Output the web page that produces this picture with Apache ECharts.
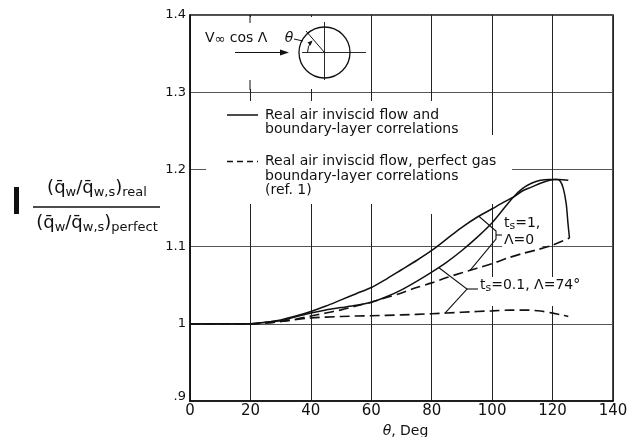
<!DOCTYPE html>
<html><head><meta charset="utf-8">
<script src="https://cdn.jsdelivr.net/npm/echarts@6/dist/echarts.min.js"></script>
<style>html,body{margin:0;padding:0;background:#fff}#c{width:634px;height:437px}</style>
</head><body><div id="c"></div>
<script>
const xTickLabels = ['0','20','40','60','80','100','120','140'];
const yTickLabels = ['.9','1','1.1','1.2','1.3','1.4'];

// t_s = 1, Λ = 0 : real air inviscid flow and boundary-layer correlations (solid)
const thetaRealTs1 = [0,20,25,30,35,40,45,50,55,60,65,70,75,80,85,90,95,100,104,107,110,113,116,119,120.5,121.5,122.5,123.5,124.5,125.1,125.6];
const valRealTs1   = [1.0,1.0,1.002,1.005,1.010,1.016,1.023,1.031,1.039,1.047,1.058,1.070,1.082,1.095,1.110,1.125,1.138,1.149,1.158,1.164,1.172,1.177,1.182,1.186,1.187,1.187,1.185,1.176,1.156,1.130,1.111];
// t_s = 0.1, Λ = 74° : real air (solid)
const thetaRealTs01 = [0,20,25,30,35,40,45,50,55,60,65,70,75,80,85,90,95,100,104,107,110,113,116,119,122,125.2];
const valRealTs01   = [1.0,1.0,1.002,1.004,1.009,1.014,1.018,1.021,1.024,1.028,1.035,1.044,1.055,1.067,1.080,1.095,1.112,1.131,1.150,1.164,1.175,1.182,1.186,1.187,1.187,1.186];
// t_s = 1, Λ = 0 : perfect gas boundary-layer correlations (dashed)
const thetaPerfTs1 = [0,20,25,30,35,40,45,50,55,60,65,70,75,80,85,90,95,100,105,110,115,120,125.6];
const valPerfTs1   = [1.0,1.0,1.001,1.003,1.006,1.010,1.014,1.018,1.023,1.028,1.034,1.040,1.047,1.053,1.060,1.066,1.072,1.078,1.085,1.091,1.096,1.102,1.111];
// t_s = 0.1, Λ = 74° : perfect gas (dashed)
const thetaPerfTs01 = [0,20,25,30,40,50,60,70,80,90,100,106,112,116,120,123,125.2];
const valPerfTs01   = [1.0,1.0,1.001,1.003,1.0075,1.0095,1.0105,1.0115,1.013,1.015,1.0168,1.0177,1.0177,1.0165,1.0138,1.0115,1.0095];

const FONT = '"DejaVu Sans"';
const INK = '#111';
const pairs = (xs, ys) => xs.map((x, i) => [x, ys[i]]);
function at(xs, ys, t) {
  for (let i = 1; i < xs.length; i++) {
    if (t <= xs[i]) { const f = (t - xs[i-1]) / (xs[i] - xs[i-1]); return ys[i-1] + f * (ys[i] - ys[i-1]); }
  }
  return ys[ys.length - 1];
}

const solidStyle = {color: INK, width: 1.5};
const dashStyle = {color: INK, width: 1.6, type: [10, 5]};

const option = {
  animation: false,
  backgroundColor: '#fff',
  grid: {left: 190, top: 15, width: 423, height: 386, show: true, borderColor: INK, borderWidth: 1.5,
         backgroundColor: 'transparent', containLabel: false, outerBoundsMode: 'none'},
  xAxis: {
    type: 'value', min: 0, max: 140, interval: 20,
    axisLine: {show: true, lineStyle: {color: INK, width: 1.5}},
    axisTick: {show: false},
    axisLabel: {margin: 3, color: INK, fontSize: 15, fontFamily: FONT,
                formatter: v => xTickLabels[Math.round(v / 20)]},
    splitLine: {show: true, lineStyle: {color: '#222', width: 1}},
    name: '{i|θ}, Deg', nameLocation: 'middle', nameGap: 22,
    nameTextStyle: {color: INK, fontSize: 14, fontFamily: FONT, padding: [0, 0, 0, 8],
                    rich: {i: {fontStyle: 'italic', fontSize: 14, fontFamily: FONT, color: INK}}}
  },
  yAxis: {
    type: 'value', min: 0.9, max: 1.4, interval: 0.1,
    axisLine: {show: true, lineStyle: {color: INK, width: 1.5}},
    axisTick: {show: false},
    axisLabel: {margin: 4, color: INK, fontSize: 13, fontFamily: FONT,
                formatter: v => { const i = Math.round((v - 0.9) / 0.1); return i === 0 ? '{lo|' + yTickLabels[i] + '}' : yTickLabels[i]; },
                rich: {lo: {fontSize: 13, fontFamily: FONT, color: INK, padding: [0, 0, 8, 0]}}},
    splitLine: {show: true, lineStyle: {color: '#555', width: 1}}
  },
  series: [
    {type: 'line', name: 'ts=1, Λ=0 real', data: pairs(thetaRealTs1, valRealTs1), symbol: 'none', smooth: 0.3, lineStyle: solidStyle, z: 2},
    {type: 'line', name: 'ts=0.1, Λ=74° real', data: pairs(thetaRealTs01, valRealTs01), symbol: 'none', smooth: 0.3, lineStyle: solidStyle, z: 2},
    {type: 'line', name: 'ts=1, Λ=0 perfect', data: pairs(thetaPerfTs1, valPerfTs1), symbol: 'none', smooth: 0.3, lineStyle: dashStyle, z: 2},
    {type: 'line', name: 'ts=0.1, Λ=74° perfect', data: pairs(thetaPerfTs01, valPerfTs01), symbol: 'none', smooth: 0.3, lineStyle: dashStyle, z: 2}
  ]
};

const chart = echarts.init(document.getElementById('c'), null, {renderer: 'canvas'});
chart.setOption(option);
const P = (x, y) => chart.convertToPixel({gridIndex: 0}, [x, y]);

const W = '#fff';
const ln = (x1, y1, x2, y2, w) => ({type: 'line', z: 3, shape: {x1, y1, x2, y2}, style: {stroke: INK, lineWidth: w || 1}});
const mask = (x, y, w, h) => ({type: 'rect', z: 1, shape: {x, y, width: w, height: h}, style: {fill: W}});
const txt = (o) => Object.assign({type: 'text', z: 3}, {style: Object.assign({fill: INK, fontFamily: 'DejaVu Sans'}, o)});

// circle sketch
const cx = 324.5, cy = 52.5;
const aEnd = Math.PI + 0.79;
const ex = cx + 17 * Math.cos(aEnd), ey = cy + 17 * Math.sin(aEnd);
const tx = -Math.sin(aEnd), ty = Math.cos(aEnd);
const bx = ex - 5 * tx, by = ey - 5 * ty;
const nx = -ty, ny = tx;

// leaders
const vA = P(95.6, at(thetaRealTs1, valRealTs1, 95.6));
const vC = P(92.7, at(thetaPerfTs1, valPerfTs1, 92.7));
const vB = P(82.3, at(thetaRealTs01, valRealTs01, 82.3));
const vD = P(84.4, at(thetaPerfTs01, valPerfTs01, 84.4));

const sub = {fontSize: 11, fontFamily: 'DejaVu Sans', lineHeight: 10, verticalAlign: 'bottom', fill: INK};

const graphics = [
  // gaps in grid
  mask(192, 17, 176, 72),
  mask(206, 101, 283, 103),
  mask(489, 135, 23, 69),
  mask(427, 204, 9, 10),
  // restored short ticks
  ln(250, 15, 250, 23),
  ln(250, 80, 250, 90),
  // circle sketch
  {type: 'circle', z: 3, shape: {cx, cy, r: 25.5}, style: {fill: null, stroke: INK, lineWidth: 1.3}},
  ln(302, cy, 366, cy, 0.9),
  ln(cx, 22, cx, 80, 0.9),
  ln(cx, cy, 306, 31, 1),
  {type: 'arc', z: 3, shape: {cx, cy, r: 17, startAngle: Math.PI, endAngle: aEnd - 0.1, clockwise: true}, style: {stroke: INK, lineWidth: 1, fill: null}},
  {type: 'polygon', z: 3, shape: {points: [[ex, ey], [bx + 2.2 * nx, by + 2.2 * ny], [bx - 2.2 * nx, by - 2.2 * ny]]}, style: {fill: INK}},
  ln(294, 39, 303, 41),
  txt({text: 'θ', x: 289, y: 38, fontSize: 14, fontStyle: 'italic', align: 'center', verticalAlign: 'middle'}),
  ln(235, cy, 283, cy, 1.2),
  {type: 'polygon', z: 3, shape: {points: [[280, cy - 3], [289, cy], [280, cy + 3]]}, style: {fill: INK}},
  txt({text: '{m|V}{s|∞}{m| cos Λ}', x: 205, y: 38, align: 'left', verticalAlign: 'middle',
       rich: {m: {fontSize: 14, fontFamily: 'DejaVu Sans', lineHeight: 16, fill: INK},
              s: {fontSize: 13, fontFamily: 'DejaVu Sans', lineHeight: 8, verticalAlign: 'bottom', fill: INK}}}),
  // legend
  ln(227, 115, 258, 115, 1.5),
  txt({text: 'Real air inviscid flow and\nboundary-layer correlations', x: 265, y: 108, fontSize: 14, lineHeight: 14, verticalAlign: 'top', align: 'left'}),
  {type: 'line', z: 3, shape: {x1: 227, y1: 161.5, x2: 258, y2: 161.5}, style: {stroke: INK, lineWidth: 1.5, lineDash: [6, 4]}},
  txt({text: 'Real air inviscid flow, perfect gas\nboundary-layer correlations\n(ref. 1)', x: 265, y: 154.3, fontSize: 14, lineHeight: 14.5, verticalAlign: 'top', align: 'left'}),
  // y-axis title (fraction)
  {type: 'rect', z: 3, shape: {x: 14, y: 187, width: 5, height: 27}, style: {fill: INK}},
  txt({text: '{m|(q̄}{s|w}{m|/q̄}{s|w,s}{m|)}{s|real}', x: 97, y: 188, align: 'center', verticalAlign: 'middle',
       rich: {m: {fontSize: 18, fontFamily: 'DejaVu Sans', lineHeight: 22, fill: INK},
              s: {fontSize: 13, fontFamily: 'DejaVu Sans', lineHeight: 12, verticalAlign: 'bottom', fill: INK}}}),
  ln(33, 207, 160, 207, 1.3),
  txt({text: '{m|(q̄}{s|w}{m|/q̄}{s|w,s}{m|)}{s|perfect}', x: 97, y: 223, align: 'center', verticalAlign: 'middle',
       rich: {m: {fontSize: 18, fontFamily: 'DejaVu Sans', lineHeight: 22, fill: INK},
              s: {fontSize: 13, fontFamily: 'DejaVu Sans', lineHeight: 12, verticalAlign: 'bottom', fill: INK}}}),
  // annotation ts=1, Λ=0
  {type: 'polyline', z: 3, shape: {points: [vA, [496, 231], [496, 239], vC]}, style: {stroke: INK, lineWidth: 1.1, fill: null}},
  ln(496, 235, 502, 235, 1.1),
  {type: 'text', z: 1, style: {text: '{m|t}{s|s}{m|=1,}\n{m|Λ=0}', x: 502, y: 215, align: 'left', verticalAlign: 'top',
       backgroundColor: W, padding: [0, 2, 0, 2],
       rich: {m: {fontSize: 14, fontFamily: 'DejaVu Sans', lineHeight: 17, fill: INK}, s: sub}}},
  // annotation ts=0.1, Λ=74°
  {type: 'polyline', z: 3, shape: {points: [vB, [467, 289], vD]}, style: {stroke: INK, lineWidth: 1.1, fill: null}},
  ln(467, 289, 478, 289, 1.1),
  {type: 'text', z: 1, style: {text: '{m|t}{s|s}{m|=0.1, Λ=74°}', x: 478, y: 277, align: 'left', verticalAlign: 'top',
       backgroundColor: W, padding: [0, 2, 12, 2],
       rich: {m: {fontSize: 14, fontFamily: 'DejaVu Sans', lineHeight: 17, fill: INK}, s: sub}}}
];
chart.setOption({graphic: graphics});
</script>
</body></html>
